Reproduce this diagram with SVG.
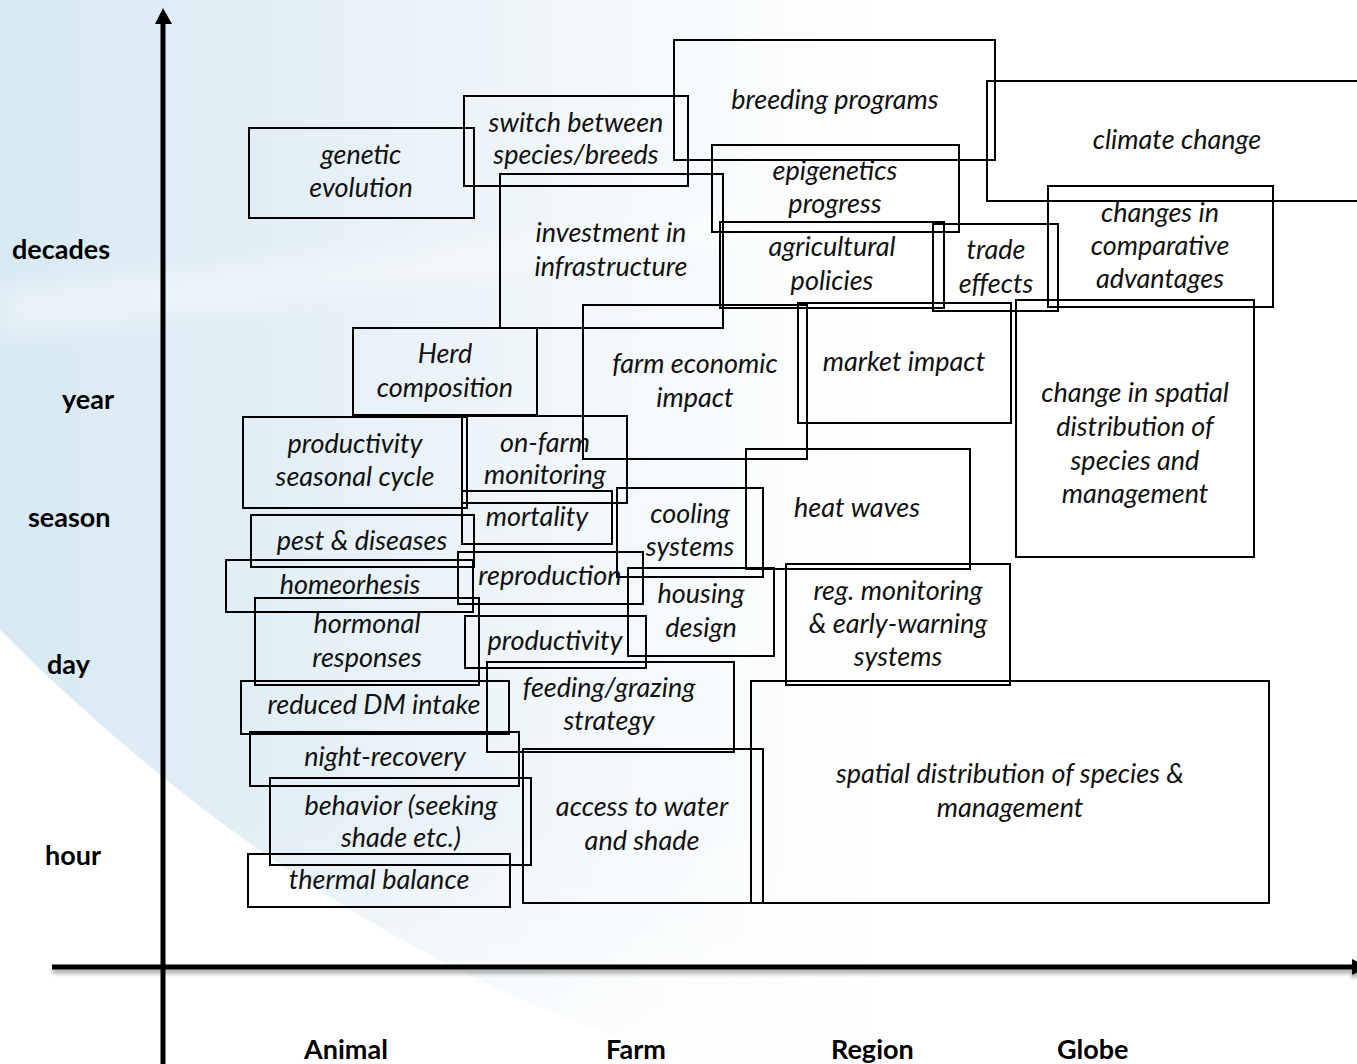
<svg xmlns="http://www.w3.org/2000/svg" width="1357" height="1064" viewBox="0 0 1357 1064">
  <style>
    .box { fill: none; stroke: #000; stroke-width: 2; }
    .lbl { font-family: Lato, "Open Sans", sans-serif; font-style: italic; font-size: 27px; fill: #111; text-anchor: middle; }
    .ax { font-family: Lato, "Open Sans", sans-serif; font-weight: bold; font-size: 27px; fill: #000; }
    .axis { stroke: #000; stroke-width: 5; fill: none; }
  </style>
  <defs>
    <linearGradient id="bgBlue" x1="0" y1="0" x2="1" y2="0">
      <stop offset="0" stop-color="#d8e9f3"/>
      <stop offset="0.3" stop-color="#e5f0f7"/>
      <stop offset="0.55" stop-color="#f3f8fb"/>
      <stop offset="0.8" stop-color="#ffffff"/>
    </linearGradient>
    <linearGradient id="bottomFade" x1="0" y1="0" x2="0" y2="1">
      <stop offset="0" stop-color="#ffffff" stop-opacity="0"/>
      <stop offset="1" stop-color="#ffffff" stop-opacity="0.75"/>
    </linearGradient>
    <filter id="soft" x="-10%" y="-50%" width="120%" height="200%">
      <feGaussianBlur stdDeviation="10"/>
    </filter>
    <filter id="shadow" x="-5%" y="-200%" width="110%" height="500%">
      <feGaussianBlur in="SourceAlpha" stdDeviation="2"/>
      <feOffset dy="4" result="b"/>
      <feComponentTransfer><feFuncA type="linear" slope="0.35"/></feComponentTransfer>
      <feMerge><feMergeNode/><feMergeNode in="SourceGraphic"/></feMerge>
    </filter>
  </defs>

  <!-- background swoosh -->
  <g id="background">
    <rect x="0" y="0" width="1357" height="1064" fill="#ffffff"/>
    <path d="M0,0 H1100 V1064 H700 Q 330,960 0,630 Z" fill="url(#bgBlue)"/>
    <rect x="0" y="820" width="1100" height="244" fill="url(#bottomFade)"/>
    <path d="M0,285 Q 320,262 760,215 L760,232 Q 330,300 0,338 Z" fill="#ffffff" opacity="0.35" filter="url(#soft)"/>
  </g>

  <!-- axes -->
  <g id="connectors">
    <line class="axis" x1="163" y1="22" x2="163" y2="1064"/>
    <polygon points="155,24 163,8 172,24" fill="#000"/>
    <g filter="url(#shadow)">
      <line class="axis" x1="52" y1="967" x2="1354" y2="967" stroke-width="6"/>
      <polygon points="1352,959 1368,967 1352,975" fill="#000"/>
    </g>
  </g>

  <!-- axis labels -->
  <g id="axis-labels">
    <text class="ax" x="12" y="259">decades</text>
    <text class="ax" x="62" y="409">year</text>
    <text class="ax" x="28" y="527">season</text>
    <text class="ax" x="47" y="674">day</text>
    <text class="ax" x="45" y="865">hour</text>
    <text class="ax" x="304" y="1059">Animal</text>
    <text class="ax" x="606" y="1059">Farm</text>
    <text class="ax" x="831" y="1059">Region</text>
    <text class="ax" x="1057" y="1059">Globe</text>
  </g>

  <g id="genetic-evolution"><rect class="box" x="249" y="128" width="225" height="90"/><text class="lbl" x="361" y="164">genetic</text><text class="lbl" x="361" y="197">evolution</text></g>
  <g id="switch-species"><rect class="box" x="464" y="96" width="224" height="90"/><text class="lbl" x="576" y="132">switch between</text><text class="lbl" x="576" y="164">species/breeds</text></g>
  <g id="breeding-programs"><rect class="box" x="674" y="40" width="321" height="120"/><text class="lbl" x="835" y="109">breeding programs</text></g>
  <g id="climate-change"><rect class="box" x="987" y="81" width="375" height="120"/><text class="lbl" x="1177" y="149">climate change</text></g>
  <g id="epigenetics"><rect class="box" x="712" y="145" width="247" height="87"/><text class="lbl" x="835" y="180">epigenetics</text><text class="lbl" x="835" y="213">progress</text></g>
  <g id="investment"><rect class="box" x="500" y="174" width="223" height="154"/><text class="lbl" x="611" y="242">investment in</text><text class="lbl" x="611" y="276">infrastructure</text></g>
  <g id="agricultural-policies"><rect class="box" x="720" y="222" width="224" height="86"/><text class="lbl" x="832" y="256">agricultural</text><text class="lbl" x="832" y="290">policies</text></g>
  <g id="trade-effects"><rect class="box" x="933" y="224" width="125" height="87"/><text class="lbl" x="996" y="259">trade</text><text class="lbl" x="996" y="293">effects</text></g>
  <g id="comparative-advantages"><rect class="box" x="1048" y="186" width="225" height="121"/><text class="lbl" x="1160" y="222">changes in</text><text class="lbl" x="1160" y="255">comparative</text><text class="lbl" x="1160" y="288">advantages</text></g>
  <g id="herd-composition"><rect class="box" x="353" y="328" width="184" height="87"/><text class="lbl" x="445" y="363">Herd</text><text class="lbl" x="445" y="397">composition</text></g>
  <g id="farm-economic-impact"><rect class="box" x="583" y="305" width="224" height="154"/><text class="lbl" x="695" y="373">farm economic</text><text class="lbl" x="695" y="407">impact</text></g>
  <g id="market-impact"><rect class="box" x="798" y="303" width="213" height="120"/><text class="lbl" x="904" y="371">market impact</text></g>
  <g id="spatial-change"><rect class="box" x="1016" y="300" width="238" height="257"/><text class="lbl" x="1135" y="402">change in spatial</text><text class="lbl" x="1135" y="436">distribution of</text><text class="lbl" x="1135" y="470">species and</text><text class="lbl" x="1135" y="503">management</text></g>
  <g id="heat-waves"><rect class="box" x="746" y="449" width="224" height="120"/><text class="lbl" x="857" y="517">heat waves</text></g>
  <g id="cooling-systems"><rect class="box" x="617" y="488" width="146" height="89"/><text class="lbl" x="690" y="523">cooling</text><text class="lbl" x="690" y="556">systems</text></g>
  <g id="on-farm-monitoring"><rect class="box" x="462" y="416" width="165" height="87"/><text class="lbl" x="545" y="452">on-farm</text><text class="lbl" x="545" y="484">monitoring</text></g>
  <g id="productivity-seasonal"><rect class="box" x="243" y="417" width="224" height="91"/><text class="lbl" x="355" y="453">productivity</text><text class="lbl" x="355" y="486">seasonal cycle</text></g>
  <g id="mortality"><rect class="box" x="462" y="491" width="150" height="53"/><text class="lbl" x="537" y="526">mortality</text></g>
  <g id="pest-diseases"><rect class="box" x="251" y="515" width="223" height="52"/><text class="lbl" x="362" y="550">pest &amp; diseases</text></g>
  <g id="homeorhesis"><rect class="box" x="226" y="560" width="247" height="52"/><text class="lbl" x="350" y="594">homeorhesis</text></g>
  <g id="reproduction"><rect class="box" x="458" y="552" width="185" height="52"/><text class="lbl" x="550" y="585">reproduction</text></g>
  <g id="hormonal-responses"><rect class="box" x="255" y="598" width="224" height="87"/><text class="lbl" x="367" y="633">hormonal</text><text class="lbl" x="367" y="667">responses</text></g>
  <g id="productivity"><rect class="box" x="465" y="616" width="181" height="52"/><text class="lbl" x="555" y="650">productivity</text></g>
  <g id="housing-design"><rect class="box" x="628" y="568" width="146" height="88"/><text class="lbl" x="701" y="603">housing</text><text class="lbl" x="701" y="637">design</text></g>
  <g id="early-warning"><rect class="box" x="786" y="564" width="224" height="121"/><text class="lbl" x="898" y="600">reg. monitoring</text><text class="lbl" x="898" y="633">&amp; early-warning</text><text class="lbl" x="898" y="666">systems</text></g>
  <g id="feeding-strategy"><rect class="box" x="487" y="662" width="247" height="90"/><text class="lbl" x="609" y="697">feeding/grazing</text><text class="lbl" x="609" y="730">strategy</text></g>
  <g id="reduced-intake"><rect class="box" x="241" y="681" width="268" height="53"/><text class="lbl" x="374" y="714">reduced DM intake</text></g>
  <g id="night-recovery"><rect class="box" x="250" y="732" width="269" height="54"/><text class="lbl" x="385" y="766">night-recovery</text></g>
  <g id="behavior"><rect class="box" x="270" y="778" width="261" height="87"/><text class="lbl" x="401" y="815">behavior (seeking</text><text class="lbl" x="401" y="847">shade etc.)</text></g>
  <g id="thermal-balance"><rect class="box" x="248" y="854" width="262" height="53"/><text class="lbl" x="379" y="889">thermal balance</text></g>
  <g id="water-shade"><rect class="box" x="523" y="749" width="240" height="154"/><text class="lbl" x="642" y="816">access to water</text><text class="lbl" x="642" y="850">and shade</text></g>
  <g id="spatial-distribution"><rect class="box" x="751" y="681" width="518" height="222"/><text class="lbl" x="1010" y="783">spatial distribution of species &amp;</text><text class="lbl" x="1010" y="817">management</text></g>
</svg>
